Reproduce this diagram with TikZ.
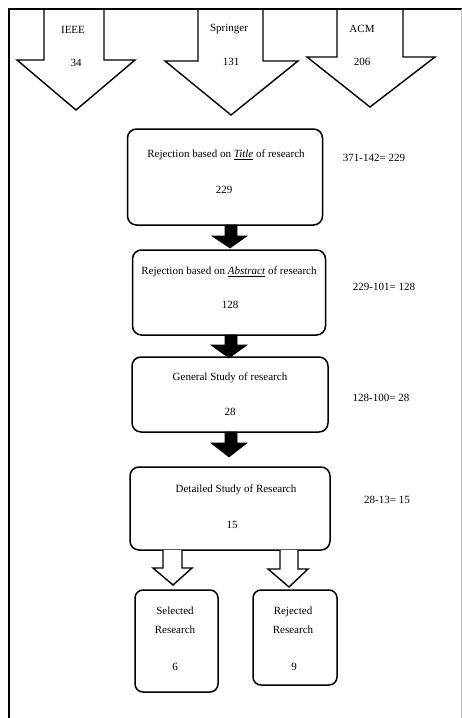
\documentclass[tikz,border=0pt]{standalone}
\usepackage{fontspec}
\setmainfont{Liberation Serif}
\begin{document}
\begin{tikzpicture}[x=1pt,y=-1pt,
  lbl/.style={font=\fontsize{11}{13}\selectfont, inner sep=0pt},
  stagebox/.style={draw, line width=1.5pt, rounded corners=9pt},
  srcarrow/.style={draw, line width=1.4pt, fill=white, line join=miter},
  blkarrow/.style={fill=black, draw=black, line width=0.6pt},
  whtarrow/.style={draw, line width=1.4pt, fill=white}]
\useasboundingbox (0,0) rectangle (462,718);
\fill[white] (0,0) rectangle (462,718);
% frame
\draw[line width=2pt] (9,718) -- (9,9) -- (462,9);
\draw[line width=0.6pt, black!25] (461,9) -- (461,718);
% source arrows
\draw[srcarrow] (44,10) -- (44,60) -- (17,60) -- (76,110) -- (135,60) -- (104,60) -- (104,10);
\draw[srcarrow] (198,10) -- (198,61) -- (165,61) -- (231,115) -- (298,61) -- (263,61) -- (263,10);
\draw[srcarrow] (337,10) -- (337,57) -- (307,57) -- (370,107) -- (435,57) -- (403,57) -- (403,10);
\node[lbl] (ieee) at (73,30) {IEEE};
\node[lbl] (ieeen) at (76,63) {34};
\node[lbl] (spr) at (229,29) {Springer};
\node[lbl] (sprn) at (231,62) {131};
\node[lbl] (acm) at (362,29) {ACM};
\node[lbl] (acmn) at (362,62) {206};
% boxes
\node[stagebox, minimum width=195pt, minimum height=96pt] (b1) at (225,177) {};
\node[lbl] (b1t) at (226,155) {Rejection based on \underline{\textit{Title}} of research};
\node[lbl] (b1n) at (224,190) {229};
\node[lbl] (b1c) at (374,158) {371-142= 229};

\node[stagebox, minimum width=193pt, minimum height=85pt] (b2) at (229,292.5) {};
\node[lbl] (b2t) at (229,272) {Rejection based on \underline{\textit{Abstract}} of research};
\node[lbl] (b2n) at (230,305) {128};
\node[lbl] (b2c) at (384,287) {229-101= 128};

\node[stagebox, minimum width=196pt, minimum height=75pt] (b3) at (230,394.5) {};
\node[lbl] (b3t) at (230,378) {General Study of research};
\node[lbl] (b3n) at (230,412) {28};
\node[lbl] (b3c) at (381,398) {128-100= 28};

\node[stagebox, minimum width=200pt, minimum height=83pt] (b4) at (230,508.5) {};
\node[lbl] (b4t) at (236,490) {Detailed Study of Research};
\node[lbl] (b4n) at (232,525) {15};
\node[lbl] (b4c) at (387,500) {28-13= 15};

\node[stagebox, rounded corners=8pt, minimum width=83pt, minimum height=102pt] (s) at (176.5,641) {};
\node[lbl, align=center] (st) at (175,620) {Selected\\[6pt]Research};
\node[lbl] (sn) at (175,667) {6};
\node[stagebox, rounded corners=8pt, minimum width=84pt, minimum height=95pt] (r) at (295,637.5) {};
\node[lbl, align=center] (rt) at (293,620) {Rejected\\[6pt]Research};
\node[lbl] (rn) at (294,667) {9};

% black arrows
\fill[blkarrow] (225,225) -- (225,236) -- (212,236) -- (230,248) -- (247,236) -- (237,236) -- (237,225) -- cycle;
\fill[blkarrow] (225,335) -- (225,345) -- (211,345) -- (229,358) -- (247,345) -- (237,345) -- (237,335) -- cycle;
\fill[blkarrow] (225,432) -- (225,443) -- (211,443) -- (229,457) -- (247,443) -- (237,443) -- (237,432) -- cycle;
% white arrows
\draw[whtarrow] (163,550) -- (163,568) -- (153,568) -- (173,585) -- (192,568) -- (182,568) -- (182,550);
\draw[whtarrow] (280,550) -- (280,569) -- (268,569) -- (289,587) -- (308,569) -- (298,569) -- (298,550);
\end{tikzpicture}
\end{document}
